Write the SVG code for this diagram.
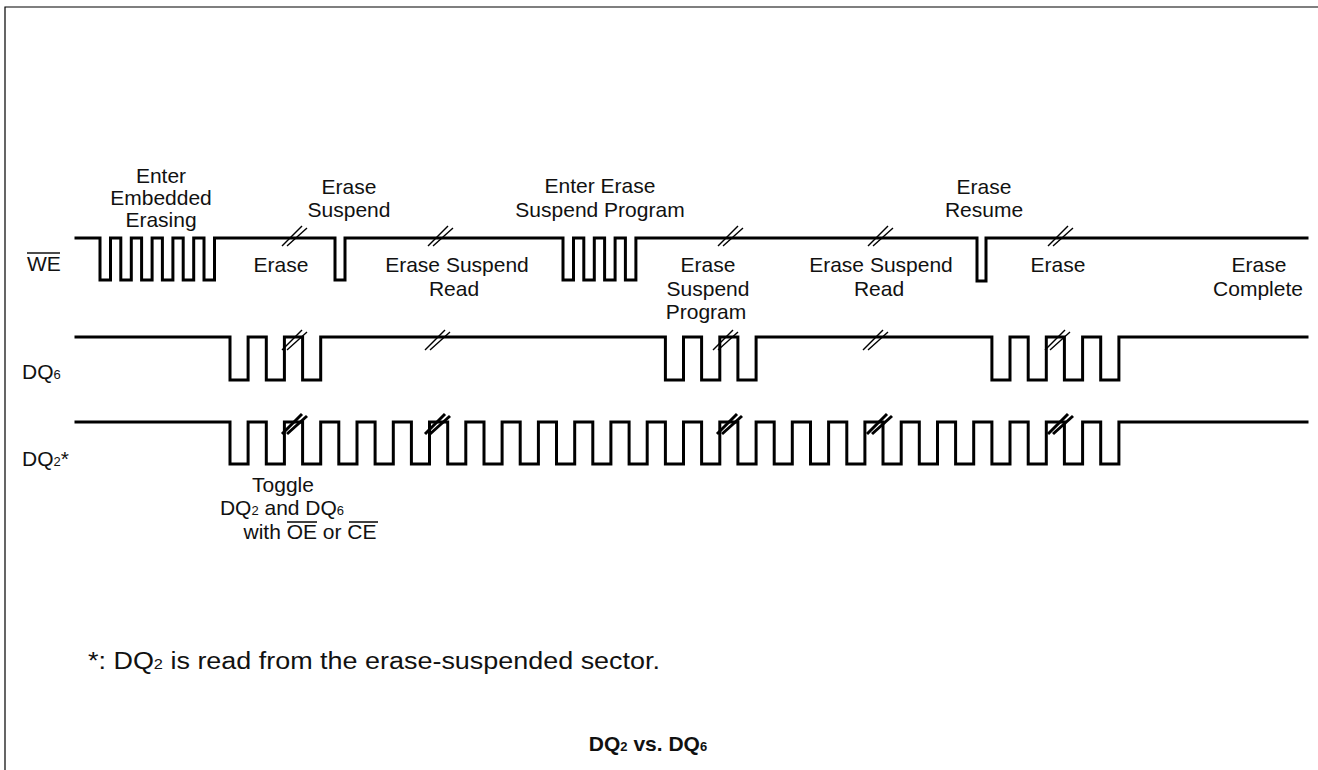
<svg xmlns="http://www.w3.org/2000/svg" xmlns:xlink="http://www.w3.org/1999/xlink" width="1318" height="770" viewBox="0 0 1318 770">
<style>
.wave{fill:none;stroke:#000;stroke-width:3;stroke-linejoin:miter;stroke-linecap:square}
.t{font-family:"Liberation Sans",Arial,Helvetica,sans-serif;font-size:21px;fill:#111}
.c{text-anchor:middle}
.sub{font-size:13px}
.fn{font-size:23px}
.fsub{font-size:14px}
.ov{stroke:#111;stroke-width:1.6}
.thin{stroke:#000;stroke-width:1.4;fill:none}
.thick{stroke:#000;stroke-width:3;fill:none}
.frame{stroke:#000;stroke-width:1.2;fill:none}
</style>
<defs>
<g id="sl"><line x1="-12" y1="8" x2="8" y2="-12"/><line x1="-7" y1="8" x2="13" y2="-10"/></g>
</defs>
<rect width="1318" height="770" fill="#fff"/>
<path class="frame" d="M5,770 V7 H1318"/>
<g id="connectors">
<g id="we-wave">
<path class="wave" d="M76,238 H100 V280 H110.5 V238 H120.8 V280 H131.3 V238 H141.6 V280 H152.1 V238 H162.4 V280 H172.9 V238 H183.2 V280 H193.7 V238 H204 V280 H214.5 V238 H335 V280 H345 V238 H563 V280 H573.5 V238 H583.8 V280 H594.3 V238 H604.6 V280 H615.1 V238 H625.4 V280 H635.9 V238 H977 V281 H986 V238 H1307"/>
<use xlink:href="#sl" x="294" y="238" class="thin"/>
<use xlink:href="#sl" x="440" y="238" class="thin"/>
<use xlink:href="#sl" x="730" y="238" class="thin"/>
<use xlink:href="#sl" x="880" y="238" class="thin"/>
<use xlink:href="#sl" x="1060" y="238" class="thin"/>
</g>
<g id="dq6-wave">
<path class="wave" d="M76,337 H230 V380 H248.1 V337 H266.3 V380 H284.4 V337 H302.6 V380 H320.7 V337 H665.4 V380 H683.5 V337 H701.6 V380 H719.8 V337 H737.9 V380 H756.1 V337 H991.9 V380 H1010 V337 H1028.2 V380 H1046.3 V337 H1064.4 V380 H1082.6 V337 H1100.7 V380 H1118.9 V337 H1307"/>
<use xlink:href="#sl" x="294" y="342" class="thin"/>
<use xlink:href="#sl" x="437" y="342" class="thin"/>
<use xlink:href="#sl" x="725" y="342" class="thin"/>
<use xlink:href="#sl" x="875" y="342" class="thin"/>
<use xlink:href="#sl" x="1057" y="342" class="thin"/>
</g>
<g id="dq2-wave">
<path class="wave" d="M76,422 H230 V464 H248.1 V422 H266.3 V464 H284.4 V422 H302.6 V464 H320.7 V422 H338.8 V464 H357 V422 H375.1 V464 H393.3 V422 H411.4 V464 H429.5 V422 H447.7 V464 H465.8 V422 H484 V464 H502.1 V422 H520.2 V464 H538.4 V422 H556.5 V464 H574.7 V422 H592.8 V464 H610.9 V422 H629.1 V464 H647.2 V422 H665.4 V464 H683.5 V422 H701.6 V464 H719.8 V422 H737.9 V464 H756.1 V422 H774.2 V464 H792.3 V422 H810.5 V464 H828.6 V422 H846.8 V464 H864.9 V422 H883 V464 H901.2 V422 H919.3 V464 H937.5 V422 H955.6 V464 H973.7 V422 H991.9 V464 H1010 V422 H1028.2 V464 H1046.3 V422 H1064.4 V464 H1082.6 V422 H1100.7 V464 H1118.9 V422 H1307"/>
<use xlink:href="#sl" x="294" y="426" class="thick"/>
<use xlink:href="#sl" x="437" y="426" class="thick"/>
<use xlink:href="#sl" x="729" y="426" class="thick"/>
<use xlink:href="#sl" x="879" y="426" class="thick"/>
<use xlink:href="#sl" x="1060" y="426" class="thick"/>
</g>
</g>
<g id="label-we">
<text class="t" x="27" y="271">WE</text>
<line class="ov" x1="27" y1="253" x2="60" y2="253"/>
</g>
<g id="label-dq6"><text class="t" x="22" y="379">DQ<tspan class="sub">6</tspan></text></g>
<g id="label-dq2"><text class="t" x="22" y="466">DQ<tspan class="sub">2</tspan>*</text></g>
<g id="enter-embedded">
<text class="t c" x="161" y="183">Enter</text>
<text class="t c" x="161" y="205">Embedded</text>
<text class="t c" x="161" y="227">Erasing</text>
</g>
<g id="erase-suspend">
<text class="t c" x="349" y="194">Erase</text>
<text class="t c" x="349" y="217">Suspend</text>
</g>
<g id="enter-esp">
<text class="t c" x="600" y="193">Enter Erase</text>
<text class="t c" x="600" y="217">Suspend Program</text>
</g>
<g id="erase-resume">
<text class="t c" x="984" y="194">Erase</text>
<text class="t c" x="984" y="217">Resume</text>
</g>
<g id="state-erase1"><text class="t c" x="281" y="272">Erase</text></g>
<g id="state-esr1">
<text class="t c" x="457" y="272">Erase Suspend</text>
<text class="t c" x="454" y="296">Read</text>
</g>
<g id="state-esp">
<text class="t c" x="708" y="272">Erase</text>
<text class="t c" x="708" y="296">Suspend</text>
<text class="t c" x="706" y="319">Program</text>
</g>
<g id="state-esr2">
<text class="t c" x="881" y="272">Erase Suspend</text>
<text class="t c" x="879" y="296">Read</text>
</g>
<g id="state-erase2"><text class="t c" x="1058" y="272">Erase</text></g>
<g id="state-complete">
<text class="t c" x="1259" y="272">Erase</text>
<text class="t c" x="1258" y="296">Complete</text>
</g>
<g id="toggle-note">
<text class="t c" x="283" y="492">Toggle</text>
<text class="t c" x="282" y="515">DQ<tspan class="sub">2</tspan> and DQ<tspan class="sub">6</tspan></text>
<text class="t c" x="310" y="539">with OE or CE</text>
<line class="ov" x1="287" y1="522" x2="317" y2="522"/>
<line class="ov" x1="349" y1="522" x2="378" y2="522"/>
</g>
<g id="footnote"><text class="t fn" x="88" y="669" textLength="572" lengthAdjust="spacingAndGlyphs">*: DQ<tspan class="fsub">2</tspan> is read from the erase-suspended sector.</text></g>
<g id="title"><text class="t c" x="648" y="751" font-weight="bold">DQ<tspan class="sub">2</tspan> vs. DQ<tspan class="sub">6</tspan></text></g>
</svg>
